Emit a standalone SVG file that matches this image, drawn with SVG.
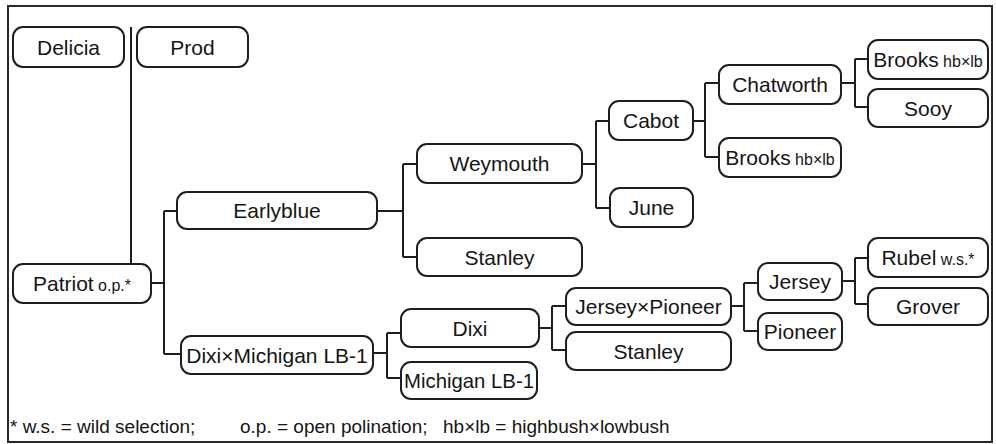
<svg xmlns="http://www.w3.org/2000/svg" width="996" height="444" viewBox="0 0 996 444">
  <style>
    .frame { fill: #ffffff; stroke: #2a2a2a; stroke-width: 2; }
    .node rect { fill: #ffffff; stroke: #1e1e1e; stroke-width: 2; }
    .node text { font-family: "Liberation Sans", Arial, sans-serif; font-size: 21px; fill: #151515; text-anchor: middle; }
    .small { font-size: 16px; }
    #connectors path { fill: none; stroke: #1e1e1e; stroke-width: 2; }
    .note { font-family: "Liberation Sans", Arial, sans-serif; font-size: 19px; fill: #151515; }
  </style>

  <rect class="frame" x="8" y="6" width="984" height="436"/>

  <!-- pedigree connectors -->
  <g id="connectors">
    <path d="M131 27 V264"/>
    <path d="M151 283 H164 M164 211 V354 M164 211 H177 M164 354 H181"/>
    <path d="M377 211 H403 M403 164 V257 M403 164 H417 M403 257 H417"/>
    <path d="M582 164 H596 M596 121 V208 M596 121 H609 M596 208 H610"/>
    <path d="M693 121 H705 M705 83 V157 M705 83 H719 M705 157 H719"/>
    <path d="M841 83 H855 M855 59 V107 M855 59 H868 M855 107 H868"/>
    <path d="M373 353 H387 M387 333 V378 M387 333 H401 M387 378 H401"/>
    <path d="M539 328 H552 M552 306 V350 M552 306 H566 M552 350 H566"/>
    <path d="M731 306 H744 M744 283 V331 M744 283 H758 M744 331 H758"/>
    <path d="M842 281 H855 M855 258 V304 M855 258 H868 M855 304 H868"/>
  </g>

  <g id="delicia" class="node">
    <rect x="13" y="27" width="111" height="40" rx="10"/>
    <text x="68.5" y="54.5">Delicia</text>
  </g>
  <g id="prod" class="node">
    <rect x="137" y="27" width="111" height="40" rx="10"/>
    <text x="192.5" y="54.5">Prod</text>
  </g>
  <g id="patriot" class="node">
    <rect x="13" y="264" width="138" height="39" rx="10"/>
    <text x="82" y="291">Patriot<tspan class="small"> o.p.*</tspan></text>
  </g>
  <g id="earlyblue" class="node">
    <rect x="177" y="192" width="200" height="37" rx="10"/>
    <text x="277" y="218">Earlyblue</text>
  </g>
  <g id="dixi-x-michigan" class="node">
    <rect x="181" y="336" width="192" height="38" rx="10"/>
    <text x="277" y="362.5">Dixi×Michigan LB-1</text>
  </g>
  <g id="weymouth" class="node">
    <rect x="417" y="144" width="165" height="39" rx="10"/>
    <text x="499.5" y="171">Weymouth</text>
  </g>
  <g id="stanley-1" class="node">
    <rect x="417" y="238" width="165" height="38" rx="10"/>
    <text x="499.5" y="264.5">Stanley</text>
  </g>
  <g id="dixi" class="node">
    <rect x="401" y="309" width="138" height="38" rx="10"/>
    <text x="470" y="335.5">Dixi</text>
  </g>
  <g id="michigan-lb1" class="node">
    <rect x="401" y="362" width="136" height="37" rx="10"/>
    <text x="469" y="388" textLength="130" lengthAdjust="spacingAndGlyphs">Michigan LB-1</text>
  </g>
  <g id="cabot" class="node">
    <rect x="609" y="101" width="84" height="39" rx="10"/>
    <text x="651" y="128">Cabot</text>
  </g>
  <g id="june" class="node">
    <rect x="610" y="188" width="83" height="39" rx="10"/>
    <text x="651.5" y="215">June</text>
  </g>
  <g id="chatworth" class="node">
    <rect x="719" y="65" width="122" height="39" rx="10"/>
    <text x="780" y="92">Chatworth</text>
  </g>
  <g id="brooks-2" class="node">
    <rect x="719" y="138" width="122" height="39" rx="10"/>
    <text x="780" y="165">Brooks<tspan class="small"> hb×lb</tspan></text>
  </g>
  <g id="brooks-1" class="node">
    <rect x="868" y="40" width="120" height="39" rx="10"/>
    <text x="928" y="67">Brooks<tspan class="small"> hb×lb</tspan></text>
  </g>
  <g id="sooy" class="node">
    <rect x="868" y="89" width="120" height="38" rx="10"/>
    <text x="928" y="115.5">Sooy</text>
  </g>
  <g id="jersey-x-pioneer" class="node">
    <rect x="566" y="288" width="165" height="37" rx="10"/>
    <text x="648.5" y="314">Jersey×Pioneer</text>
  </g>
  <g id="stanley-2" class="node">
    <rect x="566" y="332" width="165" height="38" rx="10"/>
    <text x="648.5" y="358.5">Stanley</text>
  </g>
  <g id="jersey" class="node">
    <rect x="758" y="263" width="84" height="37" rx="10"/>
    <text x="800" y="289">Jersey</text>
  </g>
  <g id="pioneer" class="node">
    <rect x="758" y="313" width="84" height="37" rx="10"/>
    <text x="800" y="339">Pioneer</text>
  </g>
  <g id="rubel" class="node">
    <rect x="868" y="238" width="120" height="39" rx="10"/>
    <text x="928" y="265">Rubel<tspan class="small"> w.s.*</tspan></text>
  </g>
  <g id="grover" class="node">
    <rect x="868" y="288" width="120" height="37" rx="10"/>
    <text x="928" y="314">Grover</text>
  </g>

  <!-- legend -->
  <g id="legend">
    <text class="note" x="10" y="433">* w.s. = wild selection;</text>
    <text class="note" x="240" y="433">o.p. = open polination;</text>
    <text class="note" x="443" y="433">hb×lb = highbush×lowbush</text>
  </g>
</svg>
